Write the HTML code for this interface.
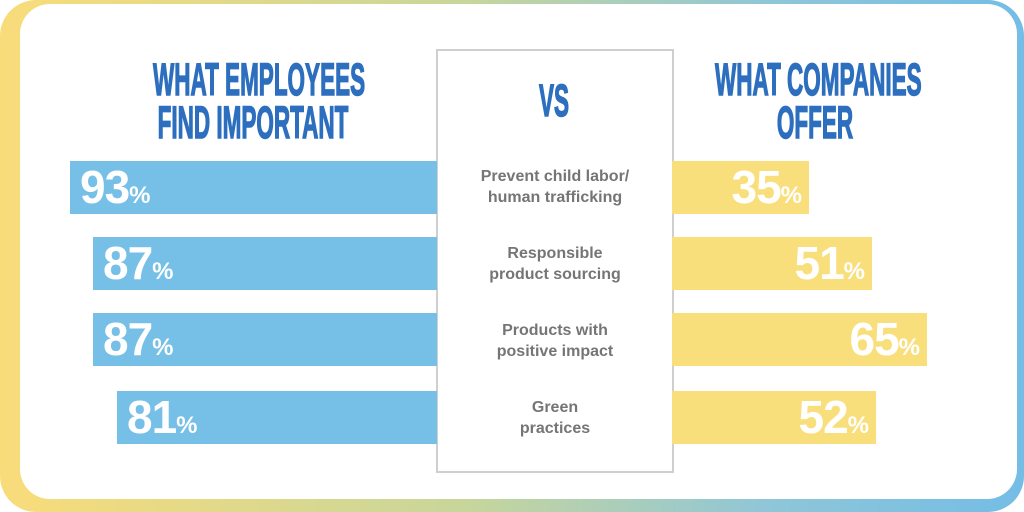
<!DOCTYPE html>
<html><head><meta charset="utf-8"><style>
html,body{margin:0;padding:0}
body{width:1024px;height:512px;position:relative;overflow:hidden;background:#fff;font-family:"Liberation Sans",sans-serif}
.frame{position:absolute;left:0;top:0;width:1024px;height:512px;border-radius:36px;background:linear-gradient(90deg,#f9dc7a 0%,#c8d69a 45%,#8fc6d8 75%,#74bde6 100%)}
.card{position:absolute;left:20px;top:4px;width:997px;height:495px;border-radius:30px;background:#fff}
.h{position:absolute;color:#2d6fbe;font-family:"Liberation Sans Narrow","Liberation Sans",sans-serif;font-weight:bold;font-size:45px;line-height:43px;text-align:center;transform:scaleX(0.5);transform-origin:center top;letter-spacing:0px;white-space:nowrap;-webkit-text-stroke:1.5px #2d6fbe}
.box{position:absolute;left:436px;top:49px;width:234px;height:420px;border:2px solid #cfcfcf;background:#fff}
.bar{position:absolute;height:53px}
.b{background:#76bfe6}.y{background:#f9df7c}
.v{position:absolute;top:3px;color:#fff;font-weight:bold;font-size:46px;line-height:47px;letter-spacing:-1px}
.v small{font-size:24px}
.lab{position:absolute;left:436px;width:238px;text-align:center;color:#757575;font-weight:bold;font-size:16px;line-height:21px}
</style></head><body>
<div class="frame"></div>
<div class="card"></div>
<div class="box"></div>
<div class="h" style="left:53px;width:400px;top:58px">WHAT EMPLOYEES<br>FIND IMPORTANT</div>
<div class="h" style="left:615px;width:400px;top:58px">WHAT COMPANIES<br>OFFER</div>
<div class="h" style="left:504px;width:100px;top:79px">VS</div>

<div class="bar b" style="left:70px;top:161px;width:367px"><span class="v" style="left:10px">93<small>%</small></span></div>
<div class="bar b" style="left:93px;top:237px;width:344px"><span class="v" style="left:10px">87<small>%</small></span></div>
<div class="bar b" style="left:93px;top:313px;width:344px"><span class="v" style="left:10px">87<small>%</small></span></div>
<div class="bar b" style="left:117px;top:391px;width:320px"><span class="v" style="left:10px">81<small>%</small></span></div>

<div class="bar y" style="left:672px;top:161px;width:137px"><span class="v" style="right:8px">35<small>%</small></span></div>
<div class="bar y" style="left:672px;top:237px;width:200px"><span class="v" style="right:8px">51<small>%</small></span></div>
<div class="bar y" style="left:672px;top:313px;width:255px"><span class="v" style="right:8px">65<small>%</small></span></div>
<div class="bar y" style="left:672px;top:391px;width:204px"><span class="v" style="right:8px">52<small>%</small></span></div>

<div class="lab" style="top:166px">Prevent child labor/<br>human trafficking</div>
<div class="lab" style="top:243px">Responsible<br>product sourcing</div>
<div class="lab" style="top:320px">Products with<br>positive impact</div>
<div class="lab" style="top:397px">Green<br>practices</div>
</body></html>
